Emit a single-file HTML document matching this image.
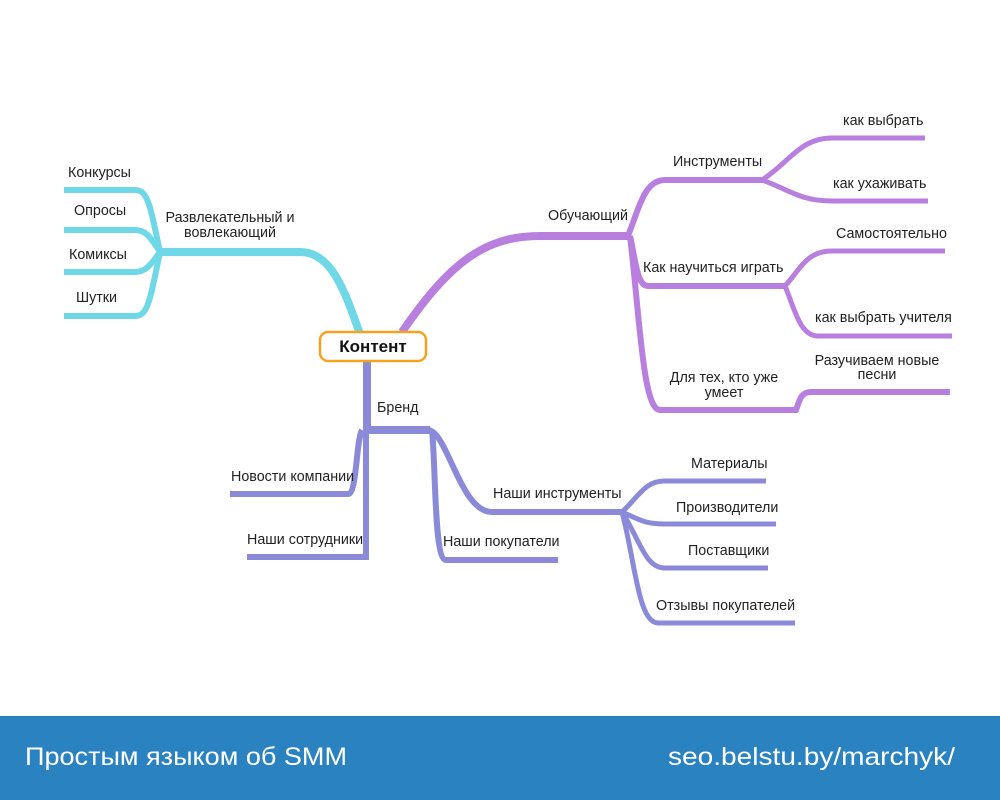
<!DOCTYPE html>
<html><head><meta charset="utf-8"><style>
html,body{margin:0;padding:0;background:#fff;width:1000px;height:800px;overflow:hidden}
svg{display:block}
text{font-family:"Liberation Sans","Noto Sans CJK SC",sans-serif;font-size:14.3px;fill:#222}
</style></head><body>
<svg width="1000" height="800" viewBox="0 0 1000 800" xmlns="http://www.w3.org/2000/svg">
<g fill="none" stroke-linecap="butt">
<g stroke="#6fd8e7">
<path d="M360,334 C345,292 332,252 300,252 L158,252" stroke-width="8"/>
<path d="M160,252 C150,205 148,190 135,190 L64,190" stroke-width="6"/>
<path d="M160,252 C150,236 145,230 135,230 L64,230" stroke-width="6"/>
<path d="M160,252 C150,266 145,272 135,272 L64,272" stroke-width="6"/>
<path d="M160,252 C150,300 148,316 135,316 L64,316" stroke-width="6"/>
</g>
<g stroke="#b87fdf">
<path d="M402,332 C450,262 485,236 540,236 L630,236" stroke-width="8"/>
<path d="M628,236 C640,205 645,180 665,180 L764,180" stroke-width="6"/>
<path d="M762,180 C790,162 800,138 832,138 L925,138" stroke-width="5"/>
<path d="M762,180 C790,190 800,201 832,201 L928,201" stroke-width="5"/>
<path d="M630,236 C636,262 637,286 648,286 L787,286" stroke-width="6"/>
<path d="M785,286 C800,270 806,251 832,251 L945,251" stroke-width="5"/>
<path d="M785,286 C795,310 800,336 818,336 L952,336" stroke-width="5"/>
<path d="M630,236 C640,320 643,410 660,410 L796,410 C800,400 800,392 812,392 L950,392" stroke-width="6"/>
</g>
<g stroke="#8a8ad8">
<path d="M367,361 L367,430 L430,430" stroke-width="8"/>
<path d="M366,430 L366,557 L247,557" stroke-width="6"/>
<path d="M362,430 C356,440 357,494 348,494 L230,494" stroke-width="6"/>
<path d="M432,430 C436,470 434,560 446,560 L558,560" stroke-width="6"/>
<path d="M428,430 C448,432 460,512 492,512 L624,512" stroke-width="6"/>
<path d="M622,512 C640,495 645,481 665,481 L766,481" stroke-width="5"/>
<path d="M622,512 C640,520 645,524 665,524 L776,524" stroke-width="5"/>
<path d="M622,512 C640,540 645,568 665,568 L768,568" stroke-width="5"/>
<path d="M622,512 C635,560 638,623 658,623 L795,623" stroke-width="5"/>
</g>
</g>
<rect x="320" y="332" width="106" height="29" rx="8" fill="#fff" stroke="#f5a31f" stroke-width="2.5"/>
<text x="373" y="352" text-anchor="middle" style="font-size:17px;font-weight:bold;fill:#111">Контент</text>

<text x="68" y="177">Конкурсы</text>
<text x="74" y="215">Опросы</text>
<text x="69" y="259">Комиксы</text>
<text x="76" y="302">Шутки</text>
<text x="230" y="222" text-anchor="middle">Развлекательный  и</text>
<text x="230" y="237" text-anchor="middle">вовлекающий</text>

<text x="548" y="220">Обучающий</text>
<text x="673" y="166">Инструменты</text>
<text x="843" y="125">как выбрать</text>
<text x="833" y="188">как ухаживать</text>
<text x="836" y="238">Самостоятельно</text>
<text x="643" y="272">Как научиться играть</text>
<text x="815" y="322">как выбрать учителя</text>
<text x="877" y="365" text-anchor="middle">Разучиваем  новые</text>
<text x="877" y="379" text-anchor="middle">песни</text>
<text x="724" y="382" text-anchor="middle">Для  тех,  кто  уже</text>
<text x="724" y="397" text-anchor="middle">умеет</text>

<text x="377" y="412">Бренд</text>
<text x="231" y="481">Новости компании</text>
<text x="247" y="544">Наши сотрудники</text>
<text x="493" y="498">Наши инструменты</text>
<text x="443" y="546">Наши покупатели</text>
<text x="691" y="468">Материалы</text>
<text x="676" y="512">Производители</text>
<text x="688" y="555">Поставщики</text>
<text x="656" y="610">Отзывы покупателей</text>

<rect x="0" y="716" width="1000" height="84" fill="#2a82c0"/>
<text x="25" y="765" textLength="322" lengthAdjust="spacingAndGlyphs" style="font-size:25px;fill:#fff">Простым языком об SMM</text>
<text x="668" y="765" textLength="287" lengthAdjust="spacingAndGlyphs" style="font-size:25px;fill:#fff">seo.belstu.by/marchyk/</text>
</svg>
</body></html>
